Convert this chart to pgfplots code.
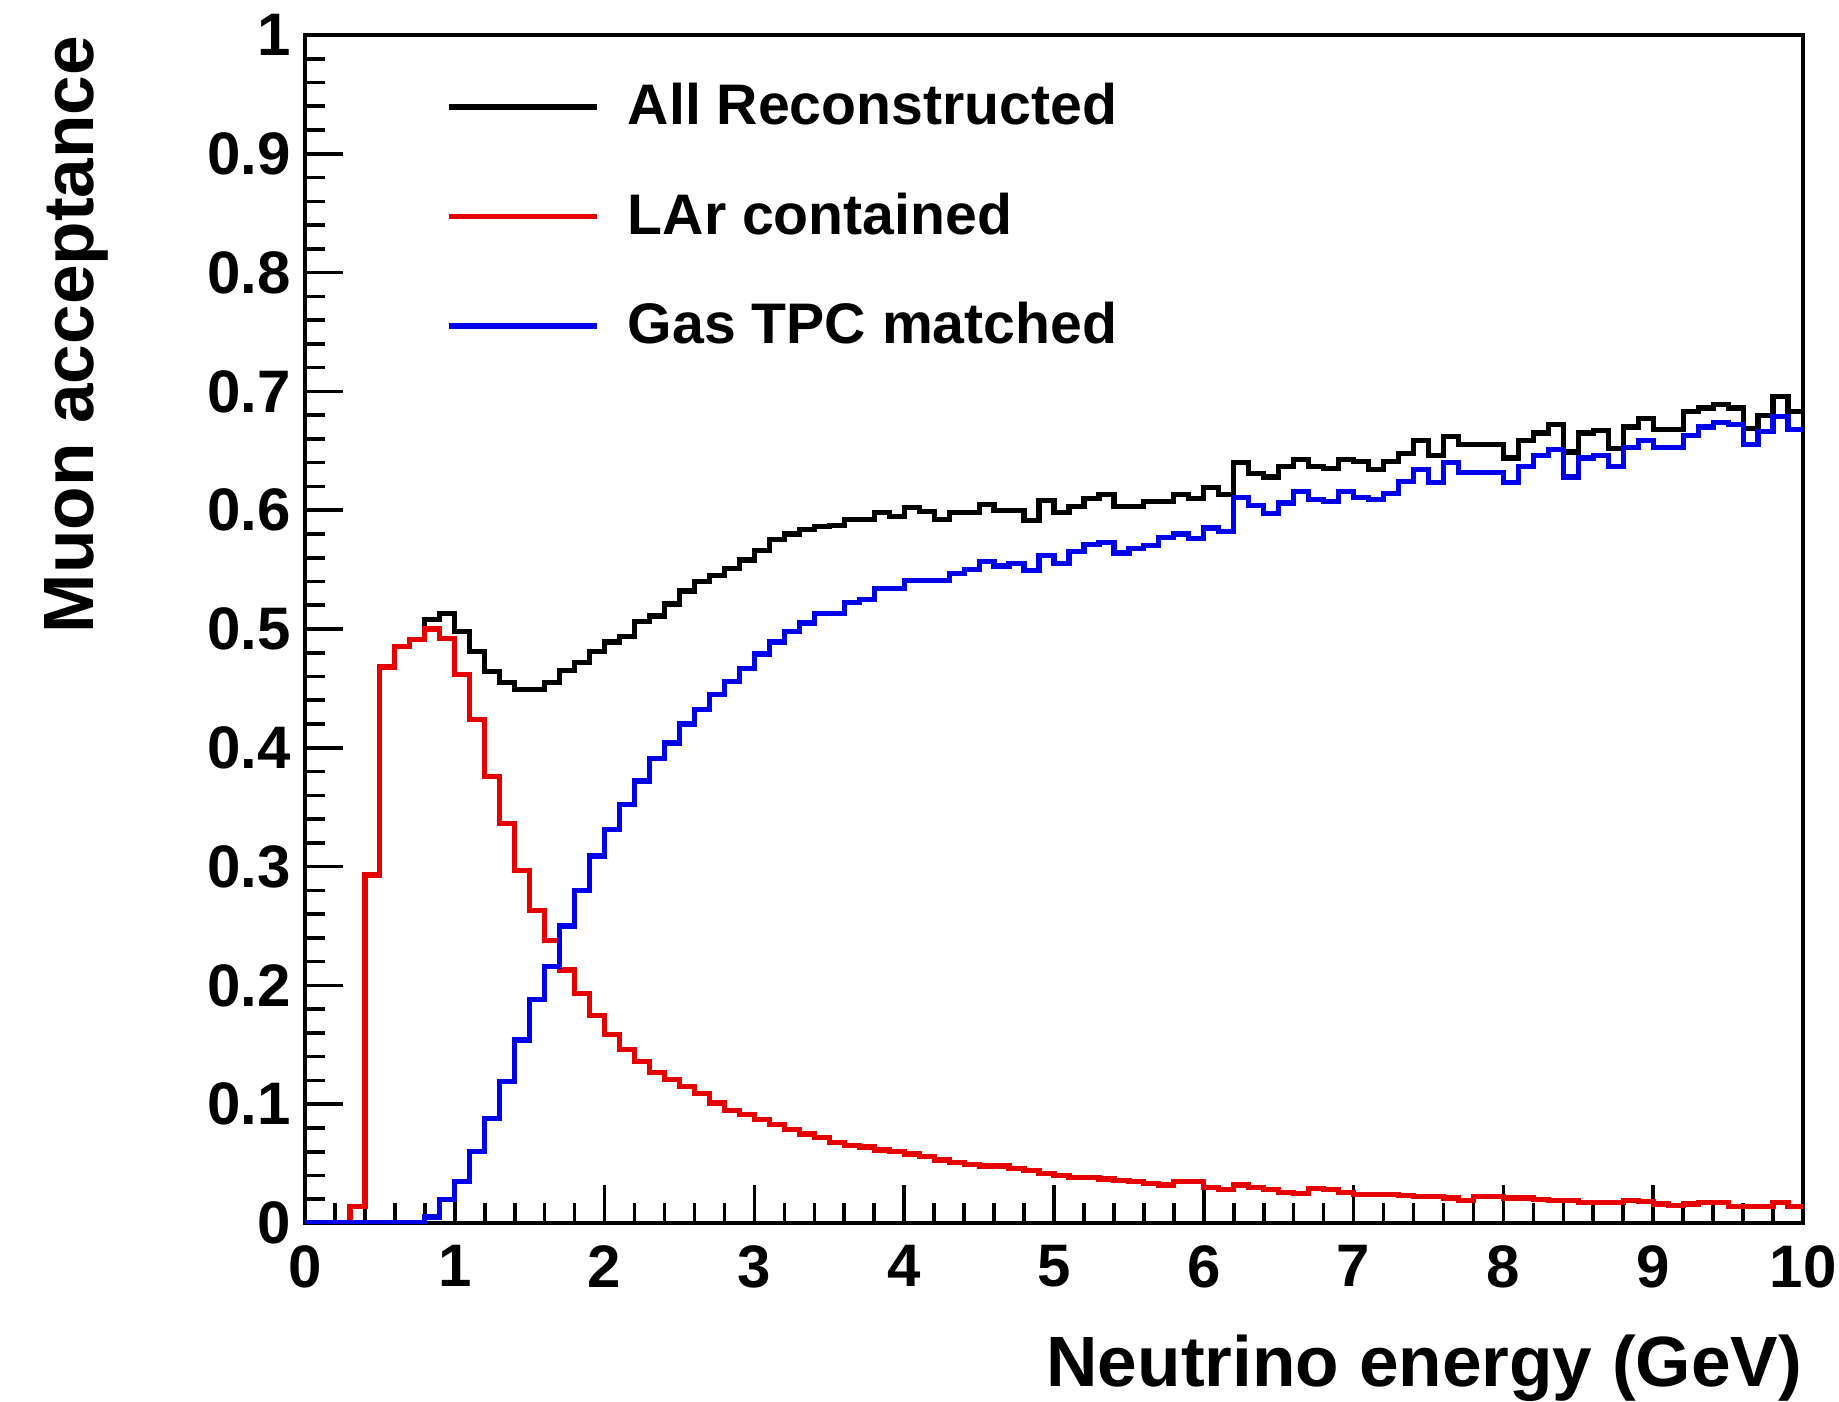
\documentclass[border=0pt]{standalone}
\usepackage{fontspec}
\setmainfont{Liberation Sans}
\usepackage{pgfplots}
\usepackage{pgfplotstable}
\pgfplotsset{compat=1.18}

\pgfplotstableread{
x all lar gas
0.0 0 0 0
0.1 0 0 0
0.2 0 0 0
0.3 0.014 0.014 0
0.4 0.293 0.293 0
0.5 0.468 0.468 0
0.6 0.485 0.485 0
0.7 0.491 0.491 0
0.8 0.508 0.500 0.005
0.9 0.513 0.492 0.020
1.0 0.498 0.462 0.035
1.1 0.481 0.424 0.060
1.2 0.464 0.376 0.088
1.3 0.455 0.336 0.119
1.4 0.449 0.297 0.154
1.5 0.449 0.263 0.188
1.6 0.455 0.238 0.216
1.7 0.465 0.213 0.250
1.8 0.472 0.193 0.280
1.9 0.481 0.175 0.309
2.0 0.489 0.159 0.331
2.1 0.494 0.146 0.352
2.2 0.506 0.136 0.372
2.3 0.511 0.127 0.391
2.4 0.521 0.121 0.404
2.5 0.532 0.115 0.420
2.6 0.540 0.109 0.432
2.7 0.545 0.101 0.445
2.8 0.551 0.095 0.456
2.9 0.558 0.091 0.467
3.0 0.566 0.087 0.479
3.1 0.575 0.083 0.489
3.2 0.580 0.079 0.498
3.3 0.584 0.075 0.505
3.4 0.586 0.072 0.513
3.5 0.587 0.068 0.513
3.6 0.592 0.065 0.522
3.7 0.592 0.064 0.525
3.8 0.598 0.0615 0.534
3.9 0.595 0.060 0.534
4.0 0.602 0.058 0.541
4.1 0.599 0.056 0.541
4.2 0.592 0.053 0.541
4.3 0.598 0.051 0.547
4.4 0.598 0.049 0.550
4.5 0.605 0.048 0.557
4.6 0.600 0.048 0.553
4.7 0.600 0.046 0.555
4.8 0.591 0.044 0.549
4.9 0.608 0.042 0.562
5.0 0.598 0.040 0.555
5.1 0.603 0.038 0.565
5.2 0.610 0.038 0.571
5.3 0.613 0.037 0.573
5.4 0.603 0.036 0.564
5.5 0.603 0.035 0.568
5.6 0.607 0.033 0.570
5.7 0.607 0.032 0.577
5.8 0.613 0.035 0.580
5.9 0.610 0.035 0.576
6.0 0.619 0.030 0.585
6.1 0.613 0.028 0.582
6.2 0.640 0.032 0.611
6.3 0.631 0.030 0.604
6.4 0.628 0.028 0.597
6.5 0.637 0.026 0.606
6.6 0.643 0.025 0.616
6.7 0.637 0.029 0.609
6.8 0.635 0.028 0.607
6.9 0.643 0.026 0.616
7.0 0.641 0.024 0.611
7.1 0.634 0.024 0.609
7.2 0.641 0.024 0.614
7.3 0.648 0.023 0.624
7.4 0.659 0.022 0.634
7.5 0.646 0.022 0.623
7.6 0.662 0.021 0.640
7.7 0.655 0.019 0.632
7.8 0.655 0.022 0.632
7.9 0.655 0.022 0.632
8.0 0.644 0.021 0.623
8.1 0.659 0.021 0.637
8.2 0.665 0.020 0.646
8.3 0.672 0.019 0.651
8.4 0.649 0.019 0.628
8.5 0.665 0.017 0.644
8.6 0.667 0.017 0.646
8.7 0.652 0.017 0.637
8.8 0.670 0.019 0.653
8.9 0.677 0.018 0.659
9.0 0.668 0.016 0.653
9.1 0.668 0.015 0.653
9.2 0.683 0.016 0.663
9.3 0.686 0.017 0.670
9.4 0.689 0.017 0.674
9.5 0.686 0.014 0.672
9.6 0.669 0.014 0.655
9.7 0.680 0.014 0.666
9.8 0.696 0.017 0.679
9.9 0.683 0.014 0.668
10.0 0.683 0.014 0.668
}\data

\definecolor{rootred}{RGB}{230,0,0}
\definecolor{rootblue}{RGB}{0,0,235}

\begin{document}
\begin{tikzpicture}
\useasboundingbox (-76.25pt,-44.5pt) rectangle (383.5pt,305.75pt);
\begin{axis}[
  scale only axis,
  width=374.5pt, height=297pt,
  xmin=0, xmax=10, ymin=0, ymax=1,
  xtick={0,1,2,3,4,5,6,7,8,9,10},
  ytick={0,0.1,0.2,0.3,0.4,0.5,0.6,0.7,0.8,0.9,1},
  yticklabels={0,0.1,0.2,0.3,0.4,0.5,0.6,0.7,0.8,0.9,1},
  xticklabels={0,1,2,3,4,5,6,7,8,9,10},
  minor x tick num=4, minor y tick num=4,
  tick align=inside, tick pos=left,
  major tick length=9.5pt, minor tick length=5pt,
  tick style={line width=0.9pt, black},
  axis line style={line width=0.9pt},
  /pgf/number format/assume math mode=true,
  ticklabel style={font=\fontsize{15}{18}\bfseries\selectfont},
  xticklabel style={yshift=-2pt},
  xlabel={Neutrino energy (GeV)},
  ylabel={Muon acceptance},
  xlabel style={at={(axis description cs:1,-0.138)}, anchor=base east, inner sep=0pt, font=\fontsize{17.8}{20}\bfseries\selectfont},
  ylabel style={at={(axis description cs:-0.1415,1)}, anchor=base east, inner sep=0pt, rotate=0, font=\fontsize{17.8}{20}\bfseries\selectfont},
  legend style={draw=none, fill=none, inner sep=0pt, at={(axis description cs:0.094,0.960)}, anchor=north west,
     font=\fontsize{14.3}{17}\bfseries\selectfont, row sep=15.5pt,
     nodes={inner sep=0pt}},
  legend cell align=left,
  /tikz/every odd column/.append style={column sep=7pt},
  legend image code/.code={\draw[#1] (0pt,0pt) -- (37pt,0pt);},
]
\addplot[black, line width=1.3pt, const plot mark left] table[x=x, y=all] {\data};
\addlegendentry{All Reconstructed}
\addplot[rootred, line width=1.3pt, const plot mark left] table[x=x, y=lar] {\data};
\addlegendentry{LAr contained}
\addplot[rootblue, line width=1.3pt, const plot mark left] table[x=x, y=gas] {\data};
\addlegendentry{Gas TPC matched}
\end{axis}
\end{tikzpicture}
\end{document}
